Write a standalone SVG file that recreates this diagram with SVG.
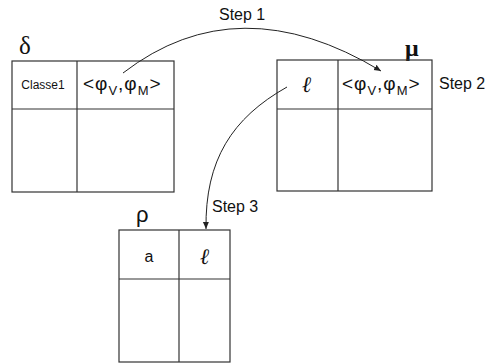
<svg xmlns="http://www.w3.org/2000/svg" width="494" height="363" viewBox="0 0 494 363">
<defs>
<style>
.t{fill:none;stroke:#333;stroke-width:1.2}
.s{font-family:"Liberation Sans",Arial,sans-serif;fill:#111}
.g{font-family:"Liberation Serif","Times New Roman",serif;fill:#111}
.l{font-family:"DejaVu Serif","Liberation Serif",serif;font-style:italic;font-weight:bold;fill:#111}
.f{font-family:"Liberation Sans",Arial,sans-serif;fill:#111;font-size:19px;letter-spacing:1px}
.c{fill:none;stroke:#222;stroke-width:1}
</style>
<marker id="ah" markerWidth="8" markerHeight="8" refX="7" refY="4" orient="auto" markerUnits="userSpaceOnUse">
<path d="M0,1 L7,4 L0,7 z" fill="#222"/>
</marker>
</defs>
<rect width="494" height="363" fill="#fff"/>
<g id="delta">
<text class="g" x="19" y="54" font-size="25">δ</text>
<rect class="t" x="12" y="61" width="162" height="131"/>
<line class="t" x1="12" y1="109" x2="174" y2="109"/>
<line class="t" x1="77" y1="61" x2="77" y2="192"/>
<text class="s" x="43" y="89" font-size="12" text-anchor="middle">Classe1</text>
<text class="f" x="83" y="90">&lt;φ<tspan font-size="13" dy="5">V</tspan><tspan dy="-5">,φ</tspan><tspan font-size="13" dy="5">M</tspan><tspan dy="-5">&gt;</tspan></text>
</g>
<g id="mu">
<text class="g" x="405" y="56" font-size="24" font-weight="bold">μ</text>
<rect class="t" x="277" y="60" width="155" height="131"/>
<line class="t" x1="277" y1="109" x2="432" y2="109"/>
<line class="t" x1="338" y1="60" x2="338" y2="191"/>
<text class="l" x="307" y="92" font-size="22" text-anchor="middle">ℓ</text>
<text class="f" x="342" y="90">&lt;φ<tspan font-size="13" dy="5">V</tspan><tspan dy="-5">,φ</tspan><tspan font-size="13" dy="5">M</tspan><tspan dy="-5">&gt;</tspan></text>
<text class="s" x="439" y="89" font-size="16">Step 2</text>
</g>
<g id="rho">
<text class="s" x="136" y="222" font-size="22">ρ</text>
<rect class="t" x="119" y="230" width="111" height="132"/>
<line class="t" x1="119" y1="279" x2="230" y2="279"/>
<line class="t" x1="179" y1="230" x2="179" y2="362"/>
<text class="s" x="149" y="262" font-size="16" text-anchor="middle">a</text>
<text class="l" x="205" y="264" font-size="22" text-anchor="middle">ℓ</text>
</g>
<g id="connectors">
<path class="c" d="M123,73 Q238,-15.5 381,71" marker-end="url(#ah)"/>
<text class="s" x="219" y="20" font-size="16">Step 1</text>
<path class="c" d="M287,87 C232,118 205,160 206,229" marker-end="url(#ah)"/>
<text class="s" x="212" y="212" font-size="16">Step 3</text>
</g>
</svg>
